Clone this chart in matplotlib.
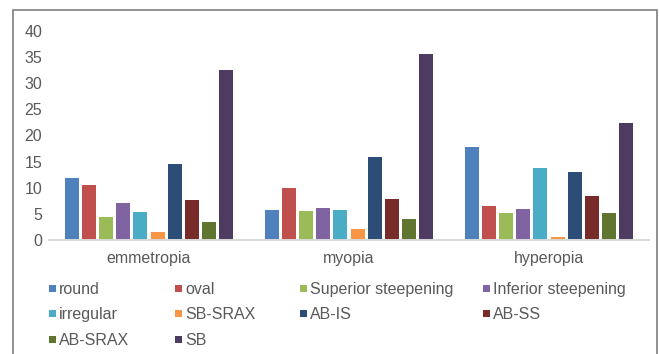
import numpy as np
import matplotlib.pyplot as plt
from matplotlib.patches import Rectangle

plt.rcParams['font.family'] = ['Liberation Sans', 'DejaVu Sans']

groups = ['emmetropia', 'myopia', 'hyperopia']
shapes = ['round', 'oval', 'Superior steepening', 'Inferior steepening',
          'irregular', 'SB-SRAX', 'AB-IS', 'AB-SS', 'AB-SRAX', 'SB']
colors = ['#4F81BD', '#C0504D', '#9BBB59', '#8064A2', '#4BACC6',
          '#F79646', '#2C4D75', '#772C2A', '#5F7530', '#4D3B62']

# percentages per refraction group, one list per pattern
round_ = [11.8, 5.7, 17.8]
oval = [10.5, 10.0, 6.5]
superior = [4.4, 5.5, 5.2]
inferior = [7.1, 6.1, 5.9]
irregular = [5.4, 5.7, 13.8]
sb_srax = [1.5, 2.1, 0.6]
ab_is = [14.5, 15.9, 13.0]
ab_ss = [7.7, 7.8, 8.4]
ab_srax = [3.4, 4.0, 5.2]
sb = [32.5, 35.6, 22.4]
values = [round_, oval, superior, inferior, irregular,
          sb_srax, ab_is, ab_ss, ab_srax, sb]

txt = '#595959'
W, H = 659, 354

fig = plt.figure(figsize=(W/100, H/100), dpi=100)
ax = fig.add_axes([49/W, 1 - 240/H, 600/W, 209/H])

x = np.arange(len(groups))
step = 0.0855
width = 0.07
for i, (name, vals) in enumerate(zip(shapes, values)):
    off = (i - (len(shapes) - 1) / 2) * step
    ax.bar(x + off, vals, width, color=colors[i], label=name, zorder=2)

ax.set_xlim(-0.5, 2.5)
ax.set_ylim(0, 40)
ax.set_yticks(range(0, 41, 5))
ax.set_xticks(x)
ax.set_xticklabels(groups)
ax.tick_params(axis='both', length=0, colors=txt, labelsize=11.5)
ax.tick_params(axis='x', pad=8)
ax.tick_params(axis='y', pad=5)
for s in ['top', 'right', 'left']:
    ax.spines[s].set_visible(False)
ax.spines['bottom'].set_color('#D9D9D9')
ax.spines['bottom'].set_linewidth(1.4)

# legend laid out row by row, four fixed columns
col_x = [49, 175, 300, 483]
row_y = [288, 313, 339]
sq = 7
for i, (name, c) in enumerate(zip(shapes, colors)):
    px, py = col_x[i % 4], row_y[i // 4]
    fig.patches.append(Rectangle((px/W, 1 - (py + sq/2)/H), sq/W, sq/H,
                                 transform=fig.transFigure, facecolor=c,
                                 edgecolor='none'))
    fig.text((px + sq + 3)/W, 1 - py/H, name, color=txt, fontsize=11.5,
             ha='left', va='center_baseline')

# outer chart frame
fig.patches.append(Rectangle((13/W, -0.01), 644/W, 1 - 10/H + 0.01,
                             transform=fig.transFigure, fill=False,
                             edgecolor='#7F7F7F', linewidth=1.2))

fig.savefig('out.png', dpi=100)
